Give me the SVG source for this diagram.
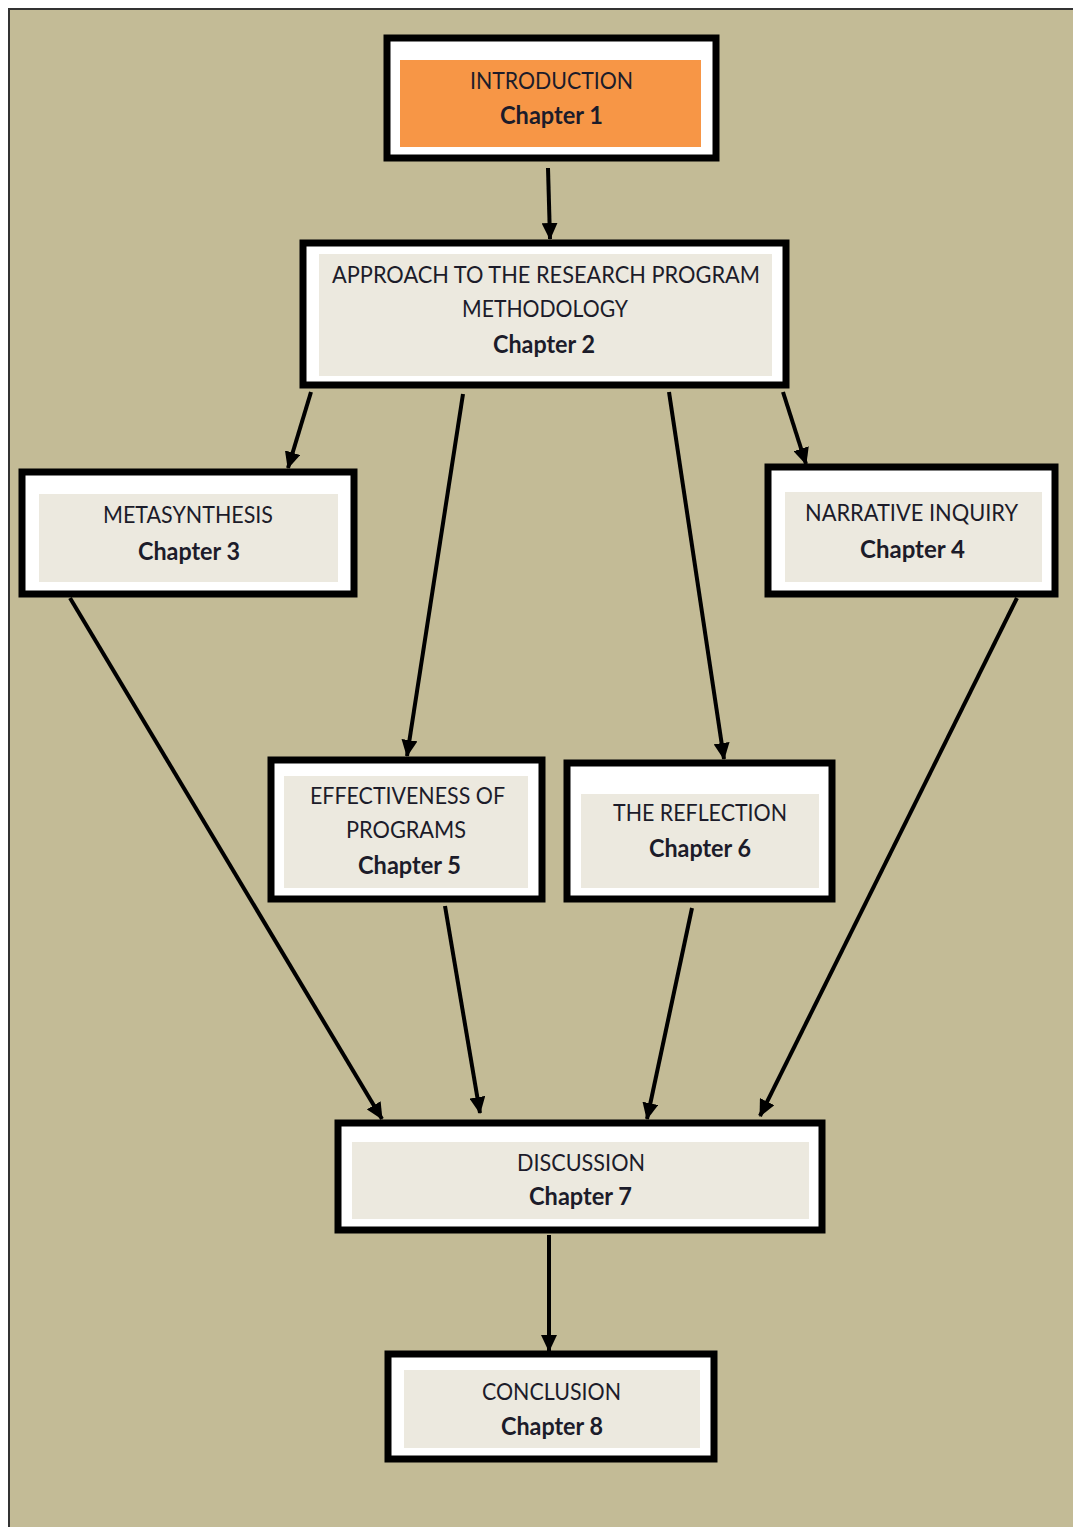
<svg xmlns="http://www.w3.org/2000/svg" width="1073" height="1527" viewBox="0 0 1073 1527">
<style>
.frame{fill:#fff;stroke:#000;stroke-width:7}
.inner{fill:#ECE9DF}
.t{font-family:Lato,"Open Sans","Liberation Sans",sans-serif;font-size:24px;fill:#1c1c2a;text-anchor:middle}
.b{font-weight:bold}
.c{stroke:#000;stroke-width:4;fill:none;marker-end:url(#ah)}
</style>
<defs>
<marker id="ah" markerUnits="userSpaceOnUse" markerWidth="18" markerHeight="16" refX="16" refY="8" orient="auto">
<path d="M0,0 L17,8 L0,16 Z" fill="#000"/>
</marker>
</defs>
<rect x="0" y="0" width="1073" height="1527" fill="#fff"/>
<rect x="9" y="9" width="1070" height="1530" fill="#C3BB96" stroke="#333" stroke-width="2"/>
<g id="connectors">
<line class="c" x1="548" y1="168" x2="550" y2="239"/>
<line class="c" x1="311" y1="392" x2="288" y2="468"/>
<line class="c" x1="463" y1="394" x2="407" y2="756"/>
<line class="c" x1="669" y1="392" x2="724" y2="759"/>
<line class="c" x1="783" y1="392" x2="806" y2="464"/>
<line class="c" x1="70" y1="598" x2="382" y2="1119"/>
<line class="c" x1="445" y1="906" x2="480" y2="1113"/>
<line class="c" x1="692" y1="908" x2="647" y2="1119"/>
<line class="c" x1="1017" y1="598" x2="760" y2="1116"/>
<line class="c" x1="549" y1="1235" x2="549" y2="1351"/>
</g>
<g id="n1">
<rect class="frame" x="387" y="38" width="329" height="120"/>
<rect x="400" y="60" width="301" height="87" fill="#F79646"/>
<text class="t" x="551.5" y="89" textLength="163" lengthAdjust="spacingAndGlyphs">INTRODUCTION</text>
<text class="t b" x="551.5" y="124" textLength="103" lengthAdjust="spacingAndGlyphs">Chapter 1</text>
</g>
<g id="n2">
<rect class="frame" x="303" y="243" width="483" height="142"/>
<rect class="inner" x="319" y="254" width="453" height="122"/>
<text class="t" x="546" y="283" textLength="428" lengthAdjust="spacingAndGlyphs">APPROACH TO THE RESEARCH PROGRAM</text>
<text class="t" x="545" y="317" textLength="166" lengthAdjust="spacingAndGlyphs">METHODOLOGY</text>
<text class="t b" x="544" y="353" textLength="102" lengthAdjust="spacingAndGlyphs">Chapter 2</text>
</g>
<g id="n3">
<rect class="frame" x="22" y="472" width="332" height="122"/>
<rect class="inner" x="39" y="494" width="299" height="88"/>
<text class="t" x="188" y="523" textLength="170" lengthAdjust="spacingAndGlyphs">METASYNTHESIS</text>
<text class="t b" x="189" y="560" textLength="102" lengthAdjust="spacingAndGlyphs">Chapter 3</text>
</g>
<g id="n4">
<rect class="frame" x="768" y="467" width="287" height="127"/>
<rect class="inner" x="785" y="492" width="257" height="90"/>
<text class="t" x="911.5" y="521" textLength="213" lengthAdjust="spacingAndGlyphs">NARRATIVE INQUIRY</text>
<text class="t b" x="912.5" y="558" textLength="105" lengthAdjust="spacingAndGlyphs">Chapter 4</text>
</g>
<g id="n5">
<rect class="frame" x="271" y="760" width="271" height="139"/>
<rect class="inner" x="284" y="776" width="244" height="112"/>
<text class="t" x="407.5" y="804" textLength="195" lengthAdjust="spacingAndGlyphs">EFFECTIVENESS OF</text>
<text class="t" x="406" y="838" textLength="120" lengthAdjust="spacingAndGlyphs">PROGRAMS</text>
<text class="t b" x="409.5" y="874" textLength="103" lengthAdjust="spacingAndGlyphs">Chapter 5</text>
</g>
<g id="n6">
<rect class="frame" x="567" y="763" width="265" height="136"/>
<rect class="inner" x="581" y="794" width="238" height="94"/>
<text class="t" x="700" y="821" textLength="174" lengthAdjust="spacingAndGlyphs">THE REFLECTION</text>
<text class="t b" x="700" y="857" textLength="102" lengthAdjust="spacingAndGlyphs">Chapter 6</text>
</g>
<g id="n7">
<rect class="frame" x="338" y="1123" width="484" height="107"/>
<rect class="inner" x="352" y="1142" width="457" height="77"/>
<text class="t" x="581" y="1171" textLength="128" lengthAdjust="spacingAndGlyphs">DISCUSSION</text>
<text class="t b" x="580.5" y="1205" textLength="103" lengthAdjust="spacingAndGlyphs">Chapter 7</text>
</g>
<g id="n8">
<rect class="frame" x="388" y="1354" width="326" height="105"/>
<rect class="inner" x="404" y="1370" width="296" height="78"/>
<text class="t" x="551.5" y="1400" textLength="139" lengthAdjust="spacingAndGlyphs">CONCLUSION</text>
<text class="t b" x="552" y="1435" textLength="102" lengthAdjust="spacingAndGlyphs">Chapter 8</text>
</g>
</svg>
